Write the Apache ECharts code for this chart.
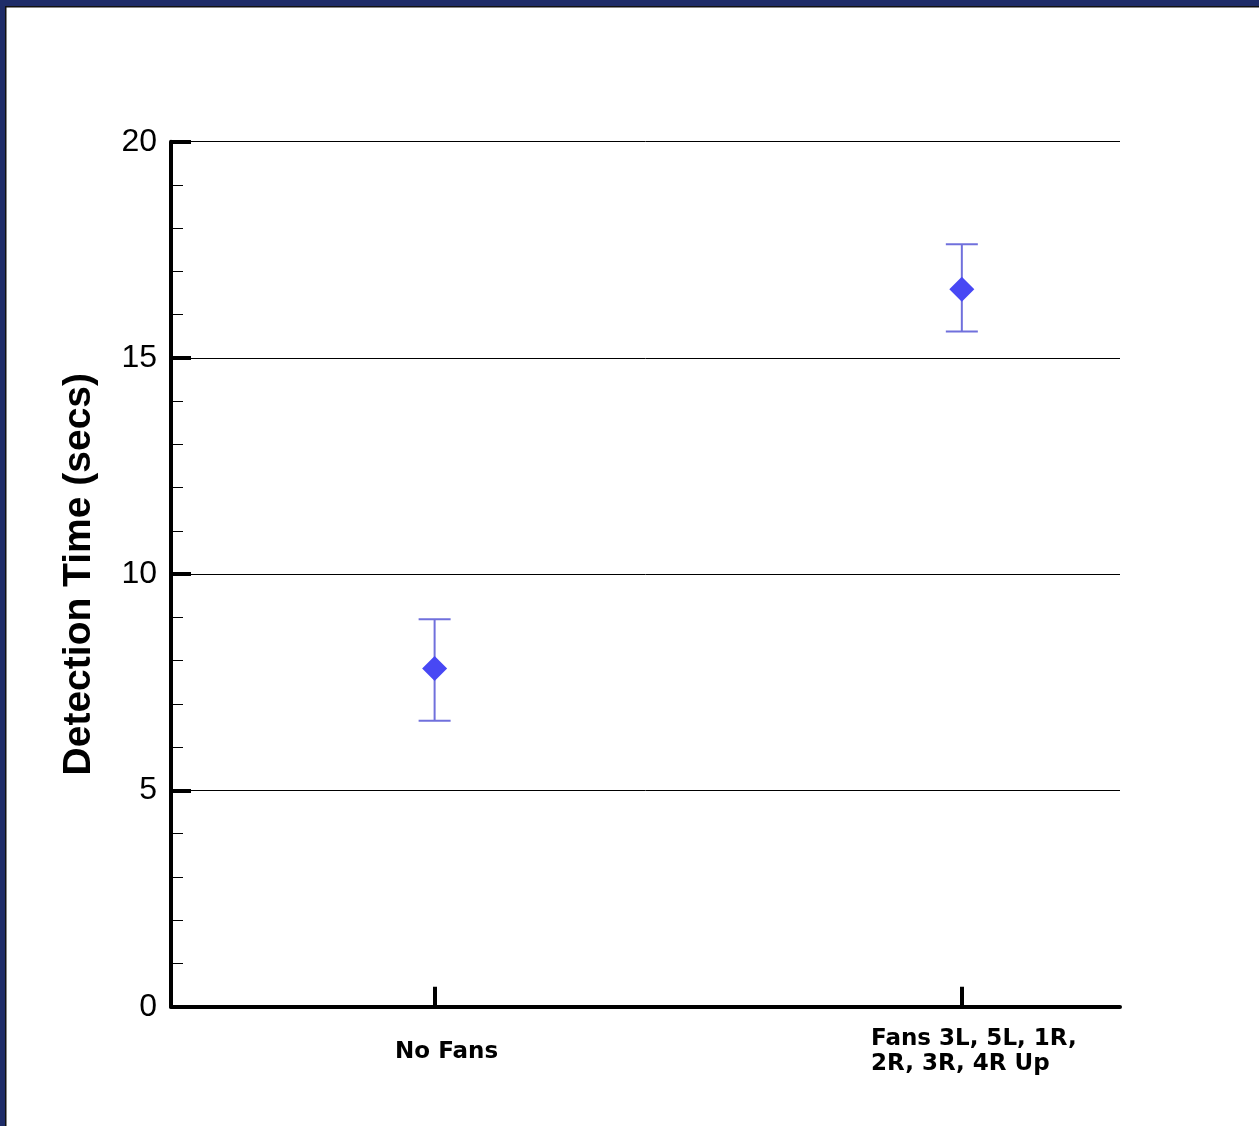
<!DOCTYPE html>
<html>
<head>
<meta charset="utf-8">
<script src="https://cdn.jsdelivr.net/npm/echarts@6/dist/echarts.min.js"></script>
<style>
  html, body { margin: 0; padding: 0; background: #ffffff; }
  #chart { width: 1259px; height: 1126px; }
</style>
</head>
<body>
<div id="chart"></div>
<script>
// Test configurations and their x positions
const categories = ['No Fans', 'Fans 3L, 5L, 1R,\n2R, 3R, 4R Up'];
const positions = [1, 2];
// Mean detection time (s) and the error-bar limits
const meanTime = [7.82, 16.59];
const lowTime = [6.61, 15.61];
const highTime = [8.96, 17.63];
// Y-axis ticks
const yTicks = [0, 5, 10, 15, 20];

const pointData = positions.map((x, i) => [x, meanTime[i]]);
const barData = positions.map((x, i) => [x, lowTime[i], highTime[i]]);

const chart = echarts.init(document.getElementById('chart'), null, { renderer: 'canvas' });

const labelFont = { fontFamily: 'DejaVu Sans', fontWeight: 'bold', fontSize: 23, color: '#000' };

chart.setOption({
  animation: false,
  backgroundColor: '#ffffff',
  graphic: [
    { type: 'rect', shape: { x: 0, y: 0, width: 1259, height: 6 }, style: { fill: '#1e2c68' }, z: 100 },
    { type: 'rect', shape: { x: 0, y: 6, width: 1259, height: 1.5 }, style: { fill: '#111' }, z: 100 },
    { type: 'rect', shape: { x: 0, y: 0, width: 5, height: 1126 }, style: { fill: '#1e2c68' }, z: 100 },
    { type: 'rect', shape: { x: 5, y: 6, width: 1.5, height: 1120 }, style: { fill: '#111' }, z: 100 }
  ],
  grid: { left: 171, right: 139, top: 141.7, bottom: 119.3, containLabel: false },
  xAxis: {
    type: 'value',
    min: 0.5,
    max: 2.3,
    splitLine: { show: false },
    axisLine: { show: true, lineStyle: { color: '#000', width: 4 } },
    axisTick: {
      show: true, inside: true, length: 20, customValues: positions,
      lineStyle: { color: '#000', width: 4 }
    },
    axisLabel: {
      show: true,
      customValues: positions,
      margin: 45,
      verticalAlign: 'middle',
      padding: [0, 0, 0, 24],
      formatter: function (v) {
        const i = positions.indexOf(v);
        if (i < 0) return '';
        return categories[i].split('\n').map(s => '{l|' + s + '}').join('\n');
      },
      rich: {
        l: Object.assign({ align: 'left', lineHeight: 25 }, labelFont)
      }
    }
  },
  yAxis: {
    type: 'value',
    min: yTicks[0],
    max: yTicks[yTicks.length - 1],
    interval: 5,
    name: 'Detection Time (secs)',
    nameLocation: 'middle',
    nameGap: 72,
    nameRotate: 90,
    nameTextStyle: {
      fontFamily: 'Liberation Sans', fontWeight: 'bold', fontSize: 39, color: '#000'
    },
    axisLine: { show: true, lineStyle: { color: '#000', width: 4 } },
    axisTick: { show: true, inside: true, length: 20, lineStyle: { color: '#000', width: 4 } },
    minorTick: { show: true, splitNumber: 5, length: 12, lineStyle: { color: '#000', width: 1 } },
    splitLine: { show: true, lineStyle: { color: '#000', width: 1 } },
    axisLabel: {
      margin: 14,
      fontFamily: 'Liberation Sans', fontSize: 32, color: '#000'
    }
  },
  series: [
    {
      type: 'custom',
      name: 'range',
      data: barData,
      encode: { x: 0, y: [1, 2] },
      z: 2,
      renderItem: function (params, api) {
        const x = api.value(0);
        const lo = api.coord([x, api.value(1)]);
        const hi = api.coord([x, api.value(2)]);
        const half = 16;
        const style = { stroke: '#7070dc', lineWidth: 2 };
        return {
          type: 'group',
          children: [
            { type: 'line', shape: { x1: lo[0], y1: lo[1], x2: hi[0], y2: hi[1] }, style: style },
            { type: 'line', shape: { x1: hi[0] - half, y1: hi[1], x2: hi[0] + half, y2: hi[1] }, style: style },
            { type: 'line', shape: { x1: lo[0] - half, y1: lo[1], x2: lo[0] + half, y2: lo[1] }, style: style }
          ]
        };
      }
    },
    {
      type: 'scatter',
      name: 'mean',
      data: pointData,
      symbol: 'diamond',
      symbolSize: 25,
      z: 3,
      itemStyle: { color: '#4848f4', opacity: 1 }
    }
  ]
});
</script>
</body>
</html>
